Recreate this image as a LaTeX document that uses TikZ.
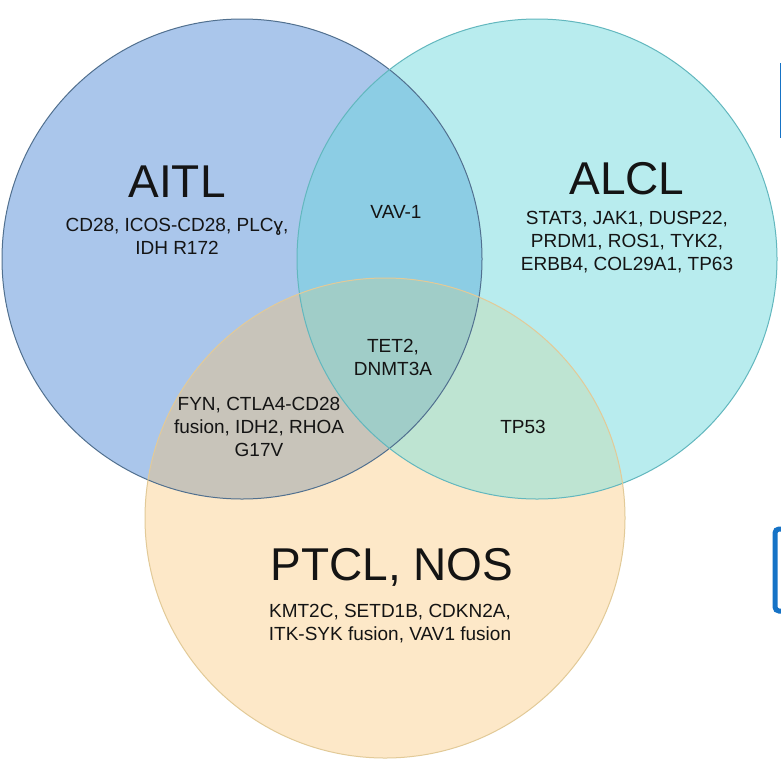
\documentclass[tikz,border=0pt]{standalone}
\usepackage{fontspec}
\setmainfont{Liberation Sans}
\usetikzlibrary{positioning}

% 円の色
\definecolor{aitlfill}{HTML}{AAC6EB}
\definecolor{alclfill}{HTML}{B8ECEE}
\definecolor{ptclfill}{HTML}{FDE8C8}
\definecolor{abfill}{HTML}{8CCDE4}
\definecolor{acfill}{HTML}{C8C4BA}
\definecolor{bcfill}{HTML}{BEE4D2}
\definecolor{abcfill}{HTML}{A0CDC8}
\definecolor{aitlline}{HTML}{51708F}
\definecolor{alclline}{HTML}{62B7BE}
\definecolor{ptclline}{HTML}{E2CA98}
\definecolor{framecol}{HTML}{1673C6}
\definecolor{txt}{HTML}{141414}

\tikzset{
  title/.style={text=txt, font=\fontsize{46}{50}\selectfont, inner sep=0pt},
  genes/.style={text=txt, font=\fontsize{19}{23}\selectfont, align=center, inner sep=0pt},
}

\begin{document}
\begin{tikzpicture}[x=1pt,y=-1pt]
  \useasboundingbox (0,0) rectangle (781,763);
  \fill[white] (0,0) rectangle (781,763);

  % 円の中心
  \coordinate (A) at (242,259);
  \coordinate (B) at (537,259);
  \coordinate (C) at (385,518);
  \def\r{240}

  % 各円
  \fill[aitlfill] (A) circle[radius=\r];
  \fill[alclfill] (B) circle[radius=\r];
  \fill[ptclfill] (C) circle[radius=\r];

  % 重なり
  \begin{scope}
    \clip (A) circle[radius=\r];
    \fill[abfill] (B) circle[radius=\r];
    \fill[acfill] (C) circle[radius=\r];
  \end{scope}
  \begin{scope}
    \clip (B) circle[radius=\r];
    \fill[bcfill] (C) circle[radius=\r];
  \end{scope}
  \begin{scope}
    \clip (A) circle[radius=\r];
    \clip (B) circle[radius=\r];
    \fill[abcfill] (C) circle[radius=\r];
  \end{scope}

  % 輪郭
  \draw[aitlline, line width=1pt] (A) circle[radius=\r];
  \draw[alclline, line width=1pt] (B) circle[radius=\r];
  \draw[ptclline, line width=1pt] (C) circle[radius=\r];

  % 右端の枠
  \begin{scope}
    \clip (0,0) rectangle (781,763);
    \draw[framecol, line width=2.5pt] (781,63) -- (781,138);
    \draw[framecol, line width=5pt, rounded corners=4pt] (775,529) rectangle (820,611);
  \end{scope}

  % ラベル
  \node[title] (aitl) at (177,182) {AITL};
  \node[genes] (aitlg) at (177,236) {CD28, ICOS-CD28, PLCɣ,\\IDH R172};
  \node[title] (alcl) at (627,179) {ALCL};
  \node[genes] (alclg) at (627,242) {STAT3, JAK1, DUSP22,\\PRDM1, ROS1, TYK2,\\ERBB4, COL29A1, TP63};
  \node[title] (ptcl) at (392,567) {PTCL, NOS};
  \node[genes] (ptclg) at (390,624) {KMT2C, SETD1B, CDKN2A,\\ITK-SYK fusion, VAV1 fusion};
  \node[genes] (ab) at (396,212) {VAV-1};
  \node[genes] (abc) at (393,357) {TET2,\\DNMT3A};
  \node[genes] (ac) at (259,427) {FYN, CTLA4-CD28\\fusion, IDH2, RHOA\\G17V};
  \node[genes] (bc) at (523,427) {TP53};
\end{tikzpicture}
\end{document}
